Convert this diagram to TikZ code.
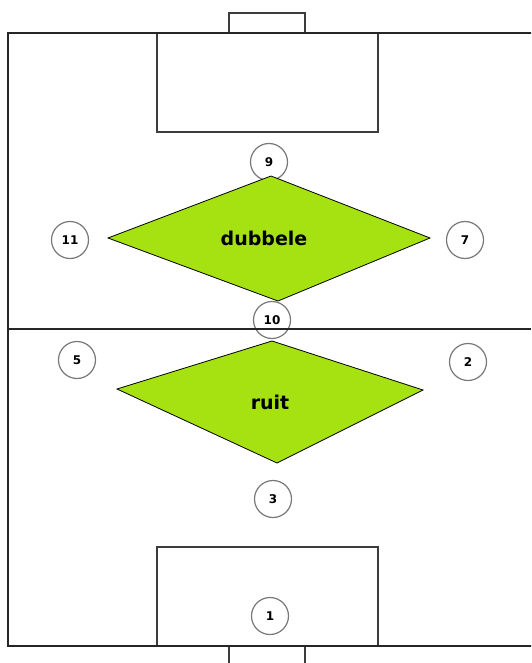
\documentclass[tikz,border=0pt]{standalone}
\usepackage{fontspec}
\setmainfont{DejaVu Sans}
\definecolor{ruitgreen}{RGB}{166,226,18}
\definecolor{linegray}{RGB}{60,60,60}
\definecolor{circgray}{RGB}{120,120,120}
\begin{document}
\begin{tikzpicture}[x=1pt,y=-1pt,
  field/.style={draw=black!85,line width=2.4pt},
  boxline/.style={draw=linegray,line width=1.5pt},
  player/.style={circle,draw=circgray,line width=1.2pt,fill=white,minimum size=37pt,inner sep=0pt,font=\bfseries\fontsize{12}{13}\selectfont},
  rhomb/.style={fill=ruitgreen,draw=black,line width=0.8pt,line join=miter},
  rtxt/.style={font=\bfseries\fontsize{19}{20}\selectfont}]
\useasboundingbox (0,0) rectangle (531,663);
\fill[white] (0,0) rectangle (531,663);
\begin{scope}
\clip (0,0) rectangle (531,663);
% goals
\draw[boxline] (229,33) -- (229,13) -- (305,13) -- (305,33);
\draw[boxline] (229,646) -- (229,670) (305,646) -- (305,670);
% penalty boxes
\draw[boxline] (157,33) rectangle (378,132);
\draw[boxline] (157,547) rectangle (378,646);
% field
\draw[field] (8,33) rectangle (545,646);
\end{scope}
% players
\node[player] (p9) at (269,162) {9};
\node[player] (p11) at (70,240) {11};
\node[player] (p7) at (465,240) {7};
\node[player] (p10) at (272,320) {10};
\node[player] (p5) at (77,360) {5};
\node[player] (p2) at (468,362) {2};
\node[player] (p3) at (273,499) {3};
\node[player] (p1) at (270,616) {1};
\draw[field] (8,329) -- (531,329);
% dubbele diamond
\coordinate (dt) at (271,176);
\coordinate (dl) at (108,238);
\coordinate (dr) at (430,238);
\coordinate (db) at (278,301);
\draw[rhomb] (dt) -- (dr) -- (db) -- (dl) -- cycle;
\node[rtxt] (dtext) at (264,238) {dubbele};
% ruit diamond
\coordinate (rt) at (272,341);
\coordinate (rl) at (117,389);
\coordinate (rr) at (423,390);
\coordinate (rb) at (277,463);
\draw[rhomb] (rt) -- (rr) -- (rb) -- (rl) -- cycle;
\node[rtxt] (rtext) at (270,402) {ruit};
\end{tikzpicture}
\end{document}
